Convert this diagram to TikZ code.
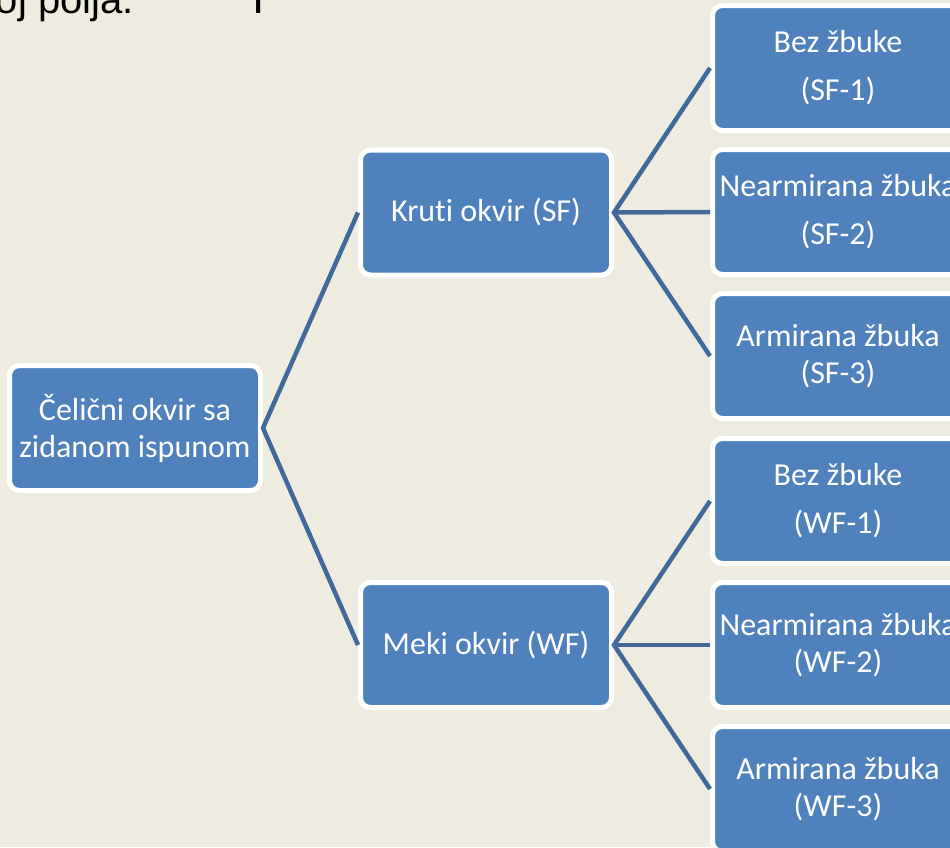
\documentclass[tikz,border=0pt]{standalone}
\usepackage{fontspec}
\setmainfont{Carlito}[Ligatures=NoCommon]
\newfontfamily\arialfont{Liberation Sans}
\definecolor{bgtan}{HTML}{EEECE1}
\definecolor{boxblue}{HTML}{4F81BD}
\definecolor{linkblue}{HTML}{41699C}
\tikzset{
  box/.style={rectangle, rounded corners=10pt, fill=boxblue, draw=white, line width=5pt,
    minimum width=251pt, minimum height=125pt, inner sep=0pt, text=white, align=center,
    font=\fontsize{32}{37}\selectfont},
  link/.style={draw=linkblue, line width=4.5pt}
}
\begin{document}
\begin{tikzpicture}[x=1pt,y=-1pt]
\fill[bgtan] (0,0) rectangle (950,847);
\useasboundingbox (0,0) rectangle (950,847);
\begin{scope}
\clip (0,0) rectangle (950,847);
\node[anchor=base east, inner sep=0pt, font=\arialfont\fontsize{40}{48}\selectfont] (title) at (134,13) {broj polja.};
\node[anchor=base, inner sep=0pt, font=\arialfont\fontsize{44}{52}\selectfont] (bar) at (258.5,13) {I};
\node[box] (root) at (135,428) {Čelični okvir sa\\zidanom ispunom};
\node[box] (sf) at (486,212.5) {Kruti okvir (SF)};
\node[box] (wf) at (486,645) {Meki okvir (WF)};
\node[box] (sf1) at (838,68) {Bez žbuke\\[11pt](SF-1)};
\node[box] (sf2) at (838,212) {Nearmirana žbuka\\[11pt](SF-2)};
\node[box] (sf3) at (838,356) {Armirana žbuka\\(SF-3)};
\node[box] (wf1) at (838,501) {Bez žbuke\\[11pt](WF-1)};
\node[box] (wf2) at (838,645) {Nearmirana žbuka\\(WF-2)};
\node[box] (wf3) at (838,789) {Armirana žbuka\\(WF-3)};
\draw[link] (sf.west) -- (root.east) -- (wf.west);
\draw[link] (sf1.west) -- (sf.east) -- (sf3.west);
\draw[link] (sf.east) -- (sf2.west);
\draw[link] (wf1.west) -- (wf.east) -- (wf3.west);
\draw[link] (wf.east) -- (wf2.west);
\end{scope}
\end{tikzpicture}
\end{document}
